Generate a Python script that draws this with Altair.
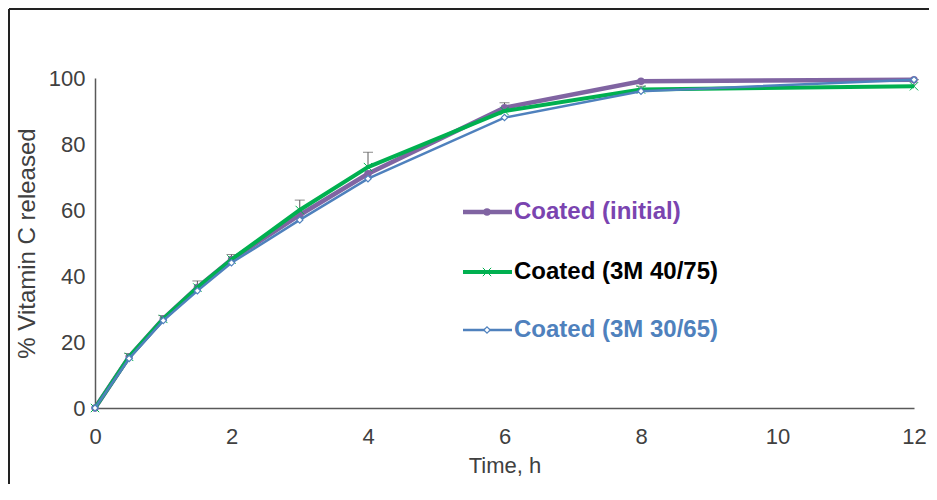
import altair as alt
import pandas as pd

# ---- data ----
times = [0, 0.5, 1, 1.5, 2, 3, 4, 6, 8, 12]
series_names = ["Coated (initial)", "Coated (3M 40/75)", "Coated (3M 30/65)"]
initial = [0, 15.5, 27, 36.5, 45, 58.5, 71, 91, 99, 99.5]
m40_75 = [0, 15.5, 27, 36.5, 45, 60, 73, 90, 96.5, 97.5]
m30_65 = [0, 15, 26.5, 35.5, 44, 57, 69.5, 88, 96, 99.5]
err_40_75 = [0, 1, 1, 2, 1.5, 3, 4.5, 2.5, 1, 2]

x_ticks = [0, 2, 4, 6, 8, 10, 12]
y_ticks = [0, 20, 40, 60, 80, 100]

W, H = 819, 330
FONT = "Liberation Sans"

xs = alt.Scale(domain=[0, 12], nice=False, zero=False)
ys = alt.Scale(domain=[0, 100], nice=False)
XAX = alt.Axis(values=x_ticks, format="d", title="Time, h", labelPadding=18, titlePadding=8,
               labelFlush=False)
YAX = alt.Axis(values=y_ticks, format="d", title="% Vitamin C released", labelPadding=10,
               titlePadding=9, titleFontSize=24, labelFlush=False)

styles = [
    dict(line="#8064A2", text="#7A44B0", width=4.5, shape="circle", filled=True, size=55, sw=1),
    dict(line="#00B050", text="#000000", width=4, shape="M-1,-1L1,1M-1,1L1,-1", filled=False, size=70, sw=1),
    dict(line="#4F81BD", text="#4F81BD", width=2.5, shape="diamond", filled=False, size=40, sw=1.2),
]
values = [initial, m40_75, m30_65]
legend_y = [134, 194, 252]

layers = []
# error bars (upper only) on the 40/75 series
edf = pd.DataFrame({"t": times, "v": m40_75, "top": [a + b for a, b in zip(m40_75, err_40_75)]})
edf = edf[edf["t"] > 0]
layers.append(alt.Chart(edf).mark_rule(color="#595959", strokeWidth=1).encode(
    x=alt.X("t:Q", scale=xs, axis=XAX), y=alt.Y("v:Q", scale=ys, axis=YAX), y2="top:Q"))
layers.append(alt.Chart(edf).mark_tick(color="#595959", thickness=1, size=10, orient="horizontal").encode(
    x=alt.X("t:Q", scale=xs, axis=XAX), y=alt.Y("top:Q", scale=ys, axis=YAX)))

for name, vals, st, ly in zip(series_names, values, styles, legend_y):
    df = pd.DataFrame({"t": times, "v": vals, "s": name})
    base = alt.Chart(df)
    layers.append(base.mark_line(color=st["line"], strokeWidth=st["width"]).encode(
        x=alt.X("t:Q", scale=xs, axis=XAX), y=alt.Y("v:Q", scale=ys, axis=YAX)))
    pt_kwargs = dict(shape=st["shape"], size=st["size"], strokeWidth=st["sw"], opacity=1)
    if st["filled"]:
        pt_kwargs.update(filled=True, color=st["line"])
    else:
        pt_kwargs.update(filled=False, stroke=st["line"])
        if st["shape"] == "diamond":
            pt_kwargs["fill"] = "white"
    layers.append(base.mark_point(**pt_kwargs).encode(
        x=alt.X("t:Q", scale=xs, axis=XAX), y=alt.Y("v:Q", scale=ys, axis=YAX)))
    # legend entry
    ldf = pd.DataFrame({"s": [name]})
    lb = alt.Chart(ldf)
    layers.append(lb.mark_rule(color=st["line"], strokeWidth=st["width"]).encode(
        x=alt.value(368), x2=alt.value(417), y=alt.value(ly)))
    layers.append(lb.mark_point(**pt_kwargs).encode(x=alt.value(392), y=alt.value(ly)))
    layers.append(lb.mark_text(align="left", baseline="middle", font=FONT, fontSize=24,
                               fontWeight="bold", color=st["text"]).encode(
        x=alt.value(419), y=alt.value(ly), text="s:N"))

# frame lines (top and left edges of the picture border)
fdf = pd.DataFrame({"k": [0]})
layers.append(alt.Chart(fdf).mark_rule(color="#222222", strokeWidth=2).encode(
    x=alt.value(-86), x2=alt.value(W + 16), y=alt.value(-69)))
layers.append(alt.Chart(fdf).mark_rule(color="#222222", strokeWidth=2).encode(
    x=alt.value(-86), y=alt.value(-69), y2=alt.value(H + 76)))

chart = alt.layer(*layers).properties(
    width=W, height=H,
    autosize=alt.AutoSizeParams(type="none"),
    padding={"left": 87, "top": 70, "right": 15, "bottom": 76},
).configure(background="white").configure_view(stroke=None).configure_axis(
    grid=False, ticks=False, domainColor="#595959", domainWidth=1.5,
    labelFont=FONT, labelFontSize=22, labelColor="#404040",
    titleFont=FONT, titleFontSize=22, titleFontWeight="normal", titleColor="#404040",
)

chart.save("out.html", embed_options={"renderer": "svg", "actions": False})
